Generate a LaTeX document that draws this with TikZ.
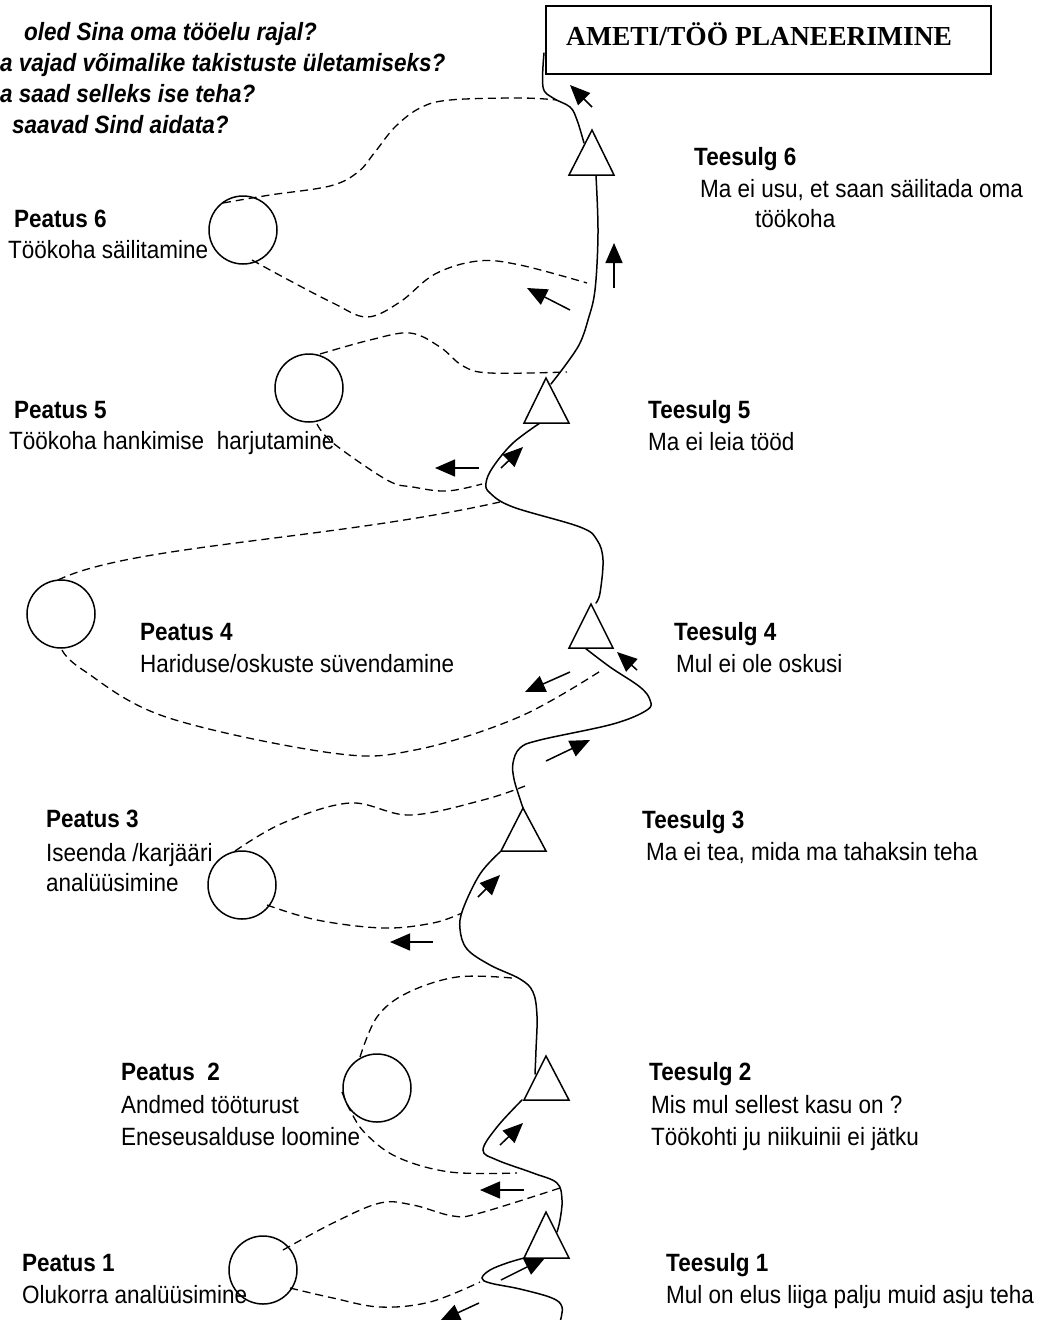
\documentclass[tikz,border=0pt]{standalone}
\usepackage{fontspec}
\setmainfont[FakeStretch=0.9]{Liberation Sans}
\newfontfamily\titlefont{Liberation Serif}
\usetikzlibrary{arrows.meta}
\begin{document}
\begin{tikzpicture}[x=1pt,y=-1pt,
  road/.style={line width=1.5pt, line cap=round},
  trail/.style={line width=1.3pt, dash pattern=on 8pt off 5pt},
  arr/.style={line width=1.5pt, -{Triangle[length=20pt,width=17pt]}},
  stopc/.style={line width=1.5pt},
  fork/.style={line width=1.5pt, fill=white, line join=miter},
  lbl/.style={anchor=base west, inner sep=0pt, font=\fontsize{25}{28}\selectfont},
  hd/.style={anchor=base west, inner sep=0pt, font=\fontsize{25}{28}\selectfont\bfseries},
  qq/.style={anchor=base west, inner sep=0pt, font=\fontsize{25}{28}\selectfont\bfseries\itshape}]
\clip (0,0) rectangle (1041,1320);
\fill[white] (0,0) rectangle (1041,1320);

% questions (cut at the left edge)
\node[qq] (q1) at (24,40) {oled Sina oma tööelu rajal?};
\node[qq] (q2) at (0,71) {a vajad võimalike takistuste ületamiseks?};
\node[qq] (q3) at (0,102) {a saad selleks ise teha?};
\node[qq] (q4) at (12,133) {saavad Sind aidata?};

% goal box
\draw[line width=1.4pt] (546,6) rectangle (991,74);
\node[anchor=base west, inner sep=0pt, font=\titlefont\fontsize{27.5}{30}\selectfont\bfseries] (title) at (566,45) {AMETI/TÖÖ PLANEERIMINE};

% dashed side trails
\draw[trail] plot[smooth, tension=0.6] coordinates {(223,203) (270,195) (330,186) (358,172) (375,152) (395,127) (420,108) (450,100) (520,98) (557,100)};
\draw[trail] plot[smooth, tension=0.6] coordinates {(252,260) (283,277) (333,303) (367,317) (400,302) (435,274) (478,261) (520,265) (587,283)};
\draw[trail] plot[smooth, tension=0.6] coordinates {(320,354) (370,340) (410,333) (440,347) (463,366) (490,373) (567,372)};
\draw[trail] plot[smooth, tension=0.6] coordinates {(317,424) (333,443) (387,480) (413,487) (447,491) (482,484)};
\draw[trail] (58,580) .. controls (130,545) and (330,540) .. (500,502);
\draw[trail] plot[smooth, tension=0.6] coordinates {(62,650) (83,670) (166,717) (332,753) (415,750) (519,717) (602,670)};
\draw[trail] plot[smooth, tension=0.6] coordinates {(235,851) (283,823) (350,803) (410,815) (483,800) (525,786)};
\draw[trail] plot[smooth, tension=0.6] coordinates {(267,905) (317,920) (383,928) (433,923) (462,913)};
\draw[trail] plot[smooth, tension=0.6] coordinates {(360,1057) (377,1017) (407,993) (457,977) (512,978)};
\draw[trail] plot[smooth, tension=0.6] coordinates {(342,1092) (350,1110) (365,1133) (397,1157) (450,1172) (517,1173)};
\draw[trail] plot[smooth, tension=0.6] coordinates {(283,1250) (333,1223) (380,1203) (413,1205) (453,1216) (480,1213) (563,1187)};
\draw[trail] plot[smooth, tension=0.6] coordinates {(290,1288) (333,1298) (380,1307) (430,1302) (480,1282)};

% the road
\draw[road] plot[smooth, tension=0.6] coordinates {(544,53) (543,87) (553,98) (570,107) (577,120) (584,143)};
\draw[road] plot[smooth, tension=0.6] coordinates {(596,176) (598,233) (595,290) (588,320) (580,343) (567,363) (551,384)};
\draw[road] plot[smooth, tension=0.6] coordinates {(540,423) (513,443) (493,467) (486,483) (490,493) (513,507) (580,527) (597,540) (603,560) (600,593) (596,603)};
\draw[road] plot[smooth, tension=0.6] coordinates {(585,648) (610,667) (640,687) (650,700) (647,710) (613,724) (540,740) (520,748) (513,763) (514,779) (520,799) (523,808)};
\draw[road] plot[smooth, tension=0.6] coordinates {(500,852) (480,874) (463,909) (460,929) (467,949) (490,965) (520,979) (533,992) (537,1016) (536,1050) (535,1074)};
\draw[road] plot[smooth, tension=0.6] coordinates {(522,1100) (497,1127) (483,1150) (497,1160) (533,1173) (557,1183) (562,1200) (560,1220) (557,1232)};
\draw[road] plot[smooth, tension=0.6] coordinates {(524,1258) (507,1263) (490,1270) (482,1278) (490,1283) (520,1289) (552,1298) (562,1307) (560,1322)};

% stops (circles)
\draw[stopc] (243,230) circle[radius=34pt];
\draw[stopc] (309,388) circle[radius=34pt];
\draw[stopc] (61,614) circle[radius=34pt];
\draw[stopc] (242,885) circle[radius=34pt];
\draw[stopc] (377,1088) circle[radius=34pt];
\draw[stopc] (263,1270) circle[radius=34pt];

% forks (triangles)
\draw[fork] (592,130) -- (569,175) -- (614,175) -- cycle;
\draw[fork] (546,378) -- (524,423) -- (569,423) -- cycle;
\draw[fork] (591,604) -- (569,648) -- (613,648) -- cycle;
\draw[fork] (523,808) -- (501,851) -- (546,851) -- cycle;
\draw[fork] (546,1056) -- (524,1100) -- (569,1100) -- cycle;
\draw[fork] (546,1212) -- (524,1258) -- (569,1258) -- cycle;

% arrows
\draw[arr] (592,107) -- (570,85);
\draw[arr] (614,288) -- (614,243);
\draw[arr] (570,310) -- (527,288);
\draw[arr] (501,468) -- (523,447);
\draw[arr] (479,468) -- (435,468);
\draw[arr] (637,670) -- (617,652);
\draw[arr] (570,672) -- (525,692);
\draw[arr] (546,761) -- (590,740);
\draw[arr] (478,897) -- (500,875);
\draw[arr] (433,942) -- (390,942);
\draw[arr] (500,1145) -- (523,1123);
\draw[arr] (524,1190) -- (480,1190);
\draw[arr] (501,1280) -- (545,1258);
\draw[arr] (479,1303) -- (440,1321);

% stop labels
\node[hd]  (p6) at (14,227) {Peatus 6};
\node[lbl] (p6t) at (8,258) {Töökoha säilitamine};
\node[hd]  (p5) at (14,418) {Peatus 5};
\node[lbl] (p5t) at (9,449) {Töökoha hankimise\ \ harjutamine};
\node[hd]  (p4) at (140,640) {Peatus 4};
\node[lbl] (p4t) at (140,672) {Hariduse/oskuste süvendamine};
\node[hd]  (p3) at (46,827) {Peatus 3};
\node[lbl] (p3t) at (46,861) {Iseenda /karjääri};
\node[lbl] (p3u) at (46,891) {analüüsimine};
\node[hd]  (p2) at (121,1080) {Peatus\ \ 2};
\node[lbl] (p2t) at (121,1113) {Andmed tööturust};
\node[lbl] (p2u) at (121,1145) {Eneseusalduse loomine};
\node[hd]  (p1) at (22,1271) {Peatus 1};
\node[lbl] (p1t) at (22,1303) {Olukorra analüüsimine};

% fork labels
\node[hd]  (t6) at (694,165) {Teesulg 6};
\node[lbl] (t6t) at (700,197) {Ma ei usu, et saan säilitada oma};
\node[lbl] (t6u) at (755,227) {töökoha};
\node[hd]  (t5) at (648,418) {Teesulg 5};
\node[lbl] (t5t) at (648,450) {Ma ei leia tööd};
\node[hd]  (t4) at (674,640) {Teesulg 4};
\node[lbl] (t4t) at (676,672) {Mul ei ole oskusi};
\node[hd]  (t3) at (642,828) {Teesulg 3};
\node[lbl] (t3t) at (646,860) {Ma ei tea, mida ma tahaksin teha};
\node[hd]  (t2) at (649,1080) {Teesulg 2};
\node[lbl] (t2t) at (651,1113) {Mis mul sellest kasu on ?};
\node[lbl] (t2u) at (651,1145) {Töökohti ju niikuinii ei jätku};
\node[hd]  (t1) at (666,1271) {Teesulg 1};
\node[lbl] (t1t) at (666,1303) {Mul on elus liiga palju muid asju teha};
\end{tikzpicture}
\end{document}
